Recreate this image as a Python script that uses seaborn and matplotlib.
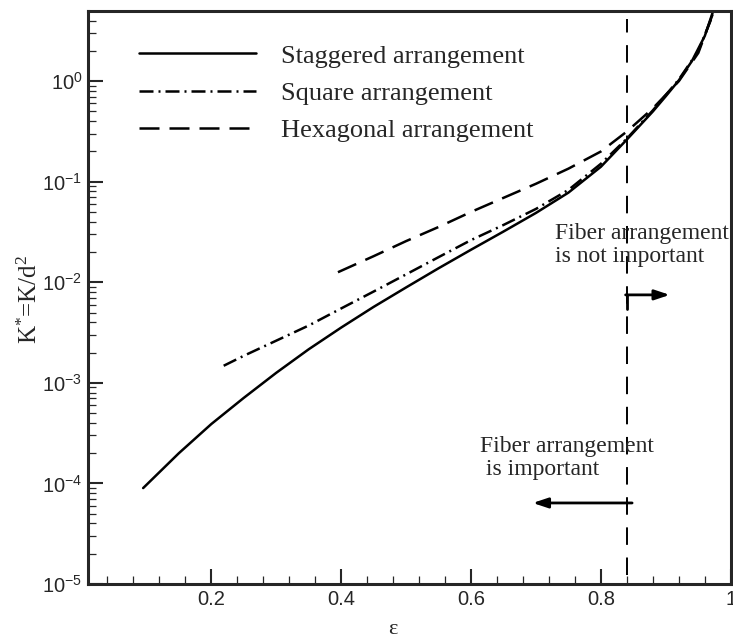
import numpy as np
import pandas as pd
import matplotlib
matplotlib.use("Agg")
import matplotlib.pyplot as plt
import matplotlib.ticker as mticker
import seaborn as sns

# ---------------- data ----------------
stag_x = [0.095, 0.15, 0.2, 0.25, 0.3, 0.35, 0.4, 0.45, 0.5, 0.55, 0.6, 0.65,
          0.7, 0.75, 0.8, 0.84, 0.88, 0.9, 0.92, 0.94, 0.96, 0.972]
stag_y = [9.0e-5, 2.0e-4, 3.9e-4, 7.1e-4, 1.26e-3, 2.16e-3, 3.55e-3, 5.7e-3,
          8.9e-3, 0.0138, 0.0211, 0.032, 0.049, 0.078, 0.141, 0.263, 0.50,
          0.71, 1.02, 1.58, 2.82, 4.8]

sq_x = [0.219, 0.25, 0.3, 0.35, 0.4, 0.45, 0.5, 0.55, 0.6, 0.65, 0.7, 0.75,
        0.8, 0.84, 0.88, 0.92, 0.95, 0.97]
sq_y = [1.48e-3, 1.86e-3, 2.63e-3, 3.72e-3, 5.5e-3, 8.1e-3, 0.012, 0.0178,
        0.0263, 0.0372, 0.0537, 0.083, 0.151, 0.269, 0.513, 1.04, 2.0, 4.17]

hex_x = [0.395, 0.45, 0.5, 0.55, 0.6, 0.65, 0.7, 0.75, 0.8, 0.84, 0.88, 0.92,
         0.95, 0.973]
hex_y = [0.0126, 0.0182, 0.0257, 0.0355, 0.0501, 0.0692, 0.0955, 0.135, 0.20,
         0.316, 0.537, 1.0, 1.91, 4.8]

series_names = ["Staggered arrangement", "Square arrangement", "Hexagonal arrangement"]
x_ticks = [0.2, 0.4, 0.6, 0.8, 1.0]
x_tick_labels = ["0.2", "0.4", "0.6", "0.8", "1"]
eps_crit = 0.84
txt_not_important = "Fiber arrangement\nis not important"
txt_important = "Fiber arrangement\n is important"

# ---------------- style ----------------
sns.set_style("ticks")
plt.rcParams["font.family"] = ["Liberation Sans", "DejaVu Sans"]
plt.rcParams["mathtext.fontset"] = "custom"
plt.rcParams["mathtext.rm"] = "Liberation Serif"
plt.rcParams["mathtext.it"] = "Liberation Serif:italic"
plt.rcParams["axes.unicode_minus"] = False

fig = plt.figure(figsize=(7.33, 6.39), dpi=100)
ax = fig.add_axes([0.120, 0.086, 0.877, 0.897])

lw = 1.8
df_s = pd.DataFrame({"x": stag_x, "y": stag_y})
df_q = pd.DataFrame({"x": sq_x, "y": sq_y})
df_h = pd.DataFrame({"x": hex_x, "y": hex_y})

sns.lineplot(data=df_s, x="x", y="y", ax=ax, color="black", lw=lw,
             label=series_names[0], sort=False)
sns.lineplot(data=df_q, x="x", y="y", ax=ax, color="black", lw=lw,
             label=series_names[1], sort=False)
sns.lineplot(data=df_h, x="x", y="y", ax=ax, color="black", lw=lw,
             label=series_names[2], sort=False)
lines = ax.get_lines()
lines[1].set_dashes([5.6, 2.0, 0.8, 2.0])
lines[2].set_dashes([8.0, 4.0])

ax.set_yscale("log")
ax.set_xlim(0.01, 0.997)
ax.set_ylim(1e-5, 5.0)

# vertical critical line
ax.axvline(eps_crit, color="black", lw=1.4, dashes=[9, 6.5], ymin=0.015, ymax=0.985)

# ticks
ax.set_xticks(x_ticks)
ax.set_xticklabels(x_tick_labels)
ax.xaxis.set_minor_locator(mticker.MultipleLocator(0.04))
ax.yaxis.set_major_locator(mticker.LogLocator(base=10, numticks=20))
ax.yaxis.set_minor_locator(mticker.LogLocator(base=10, subs=np.arange(2, 10), numticks=20))
ax.yaxis.set_minor_formatter(mticker.NullFormatter())
ax.tick_params(which="major", direction="in", length=10.8, width=1.5,
               labelsize=14.5, top=False, right=False, pad=4)
ax.tick_params(which="minor", direction="in", length=5.8, width=0.9,
               top=False, right=False)
for sp in ax.spines.values():
    sp.set_linewidth(2.2)

ax.set_xlabel("ε", fontsize=16, family="Liberation Serif")
ax.set_ylabel(r"K$^{*}$=K/d$^{2}$", fontsize=18, family="Liberation Serif")
ax.xaxis.set_label_coords(0.474, -0.062)
ax.yaxis.set_label_coords(-0.072, 0.496)

# legend
leg = ax.legend(loc="upper left", bbox_to_anchor=(0.0793, 0.942), frameon=False,
                borderaxespad=0, borderpad=0,
                handlelength=4.43, handletextpad=0.95, labelspacing=0.52,
                prop={"family": "Liberation Serif", "size": 19})

# annotations
ax.text(0.73, 0.0236, txt_not_important, fontsize=17, family="Liberation Serif",
        ha="left", va="center", linespacing=1.15)
ax.text(0.613, 1.78e-4, txt_important, fontsize=17, family="Liberation Serif",
        ha="left", va="center", linespacing=1.15)
ax.plot([eps_crit, eps_crit], [0.0075, 0.0054], color="black", lw=2.0)
ax.annotate("", xy=(0.906, 0.0075), xytext=(eps_crit - 0.002, 0.0075),
            arrowprops=dict(arrowstyle="-|>,head_length=0.9,head_width=0.3",
                            color="black", lw=2.0, shrinkA=0, shrinkB=0))
ax.annotate("", xy=(0.695, 6.4e-5), xytext=(0.848, 6.4e-5),
            arrowprops=dict(arrowstyle="-|>,head_length=0.9,head_width=0.3",
                            color="black", lw=2.0, shrinkA=0, shrinkB=0))

fig.savefig("out.png", dpi=100)
